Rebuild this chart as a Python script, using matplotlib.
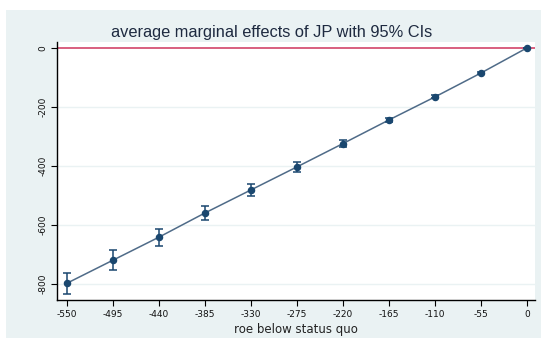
import matplotlib.pyplot as plt
from matplotlib.patches import Rectangle

# roe below status quo and the average marginal effect of JP at each level
roe = [-550, -495, -440, -385, -330, -275, -220, -165, -110, -55, 0]
ame = [-797, -719, -641, -559, -481, -403, -324, -244, -166, -85, 0]
ci_half = [36, 34, 29, 24, 20, 16, 12, 8, 5, 3, 0]
yticks = [0, -200, -400, -600, -800]

navy = '#1a476f'
bg = '#eaf2f3'

fig = plt.figure(figsize=(5.41, 3.38), dpi=100, facecolor='white')
fig.patches.append(Rectangle((6 / 541, 0), 1, 1 - 10 / 338,
                             transform=fig.transFigure, facecolor=bg,
                             edgecolor='none', zorder=-10))

ax = fig.add_axes([57 / 541, 1 - 300 / 338, (535 - 57) / 541, (300 - 42) / 338])
ax.set_facecolor('white')

for y in yticks[1:]:
    ax.axhline(y, color=bg, lw=1.0, zorder=1)
ax.axhline(0, color='#d2446a', lw=1.2, zorder=2)

ax.plot(roe, ame, color='#4f6b88', lw=1.1, zorder=3)
ax.errorbar(roe, ame, yerr=ci_half, fmt='o', color=navy, ms=4.4,
            elinewidth=1.1, capsize=3, capthick=1.1, zorder=4)

ax.set_xlim(-562, 9.6)
ax.set_ylim(-854, 20)
ax.set_xticks(roe)
ax.set_xticklabels([str(v) for v in roe], fontsize=6.5, color='#111111')
ax.set_yticks(yticks)
ax.set_yticklabels([str(v) for v in yticks], fontsize=6.5, color='#111111',
                   rotation=90, va='center')

for side in ['top', 'right']:
    ax.spines[side].set_visible(False)
for side in ['left', 'bottom']:
    ax.spines[side].set_color('black')
    ax.spines[side].set_linewidth(1.0)
ax.tick_params(direction='out', length=4, width=0.8, pad=3)

ax.set_xlabel('roe below status quo', fontsize=8.5, color='#222222', labelpad=3)
fig.text(272 / 541, 1 - 33 / 338, 'average marginal effects of JP with 95% CIs',
         ha='center', va='center', fontsize=11.8, color='#1e2a40',
         family='Liberation Sans')

fig.savefig('out.png', dpi=100, facecolor=fig.get_facecolor())
